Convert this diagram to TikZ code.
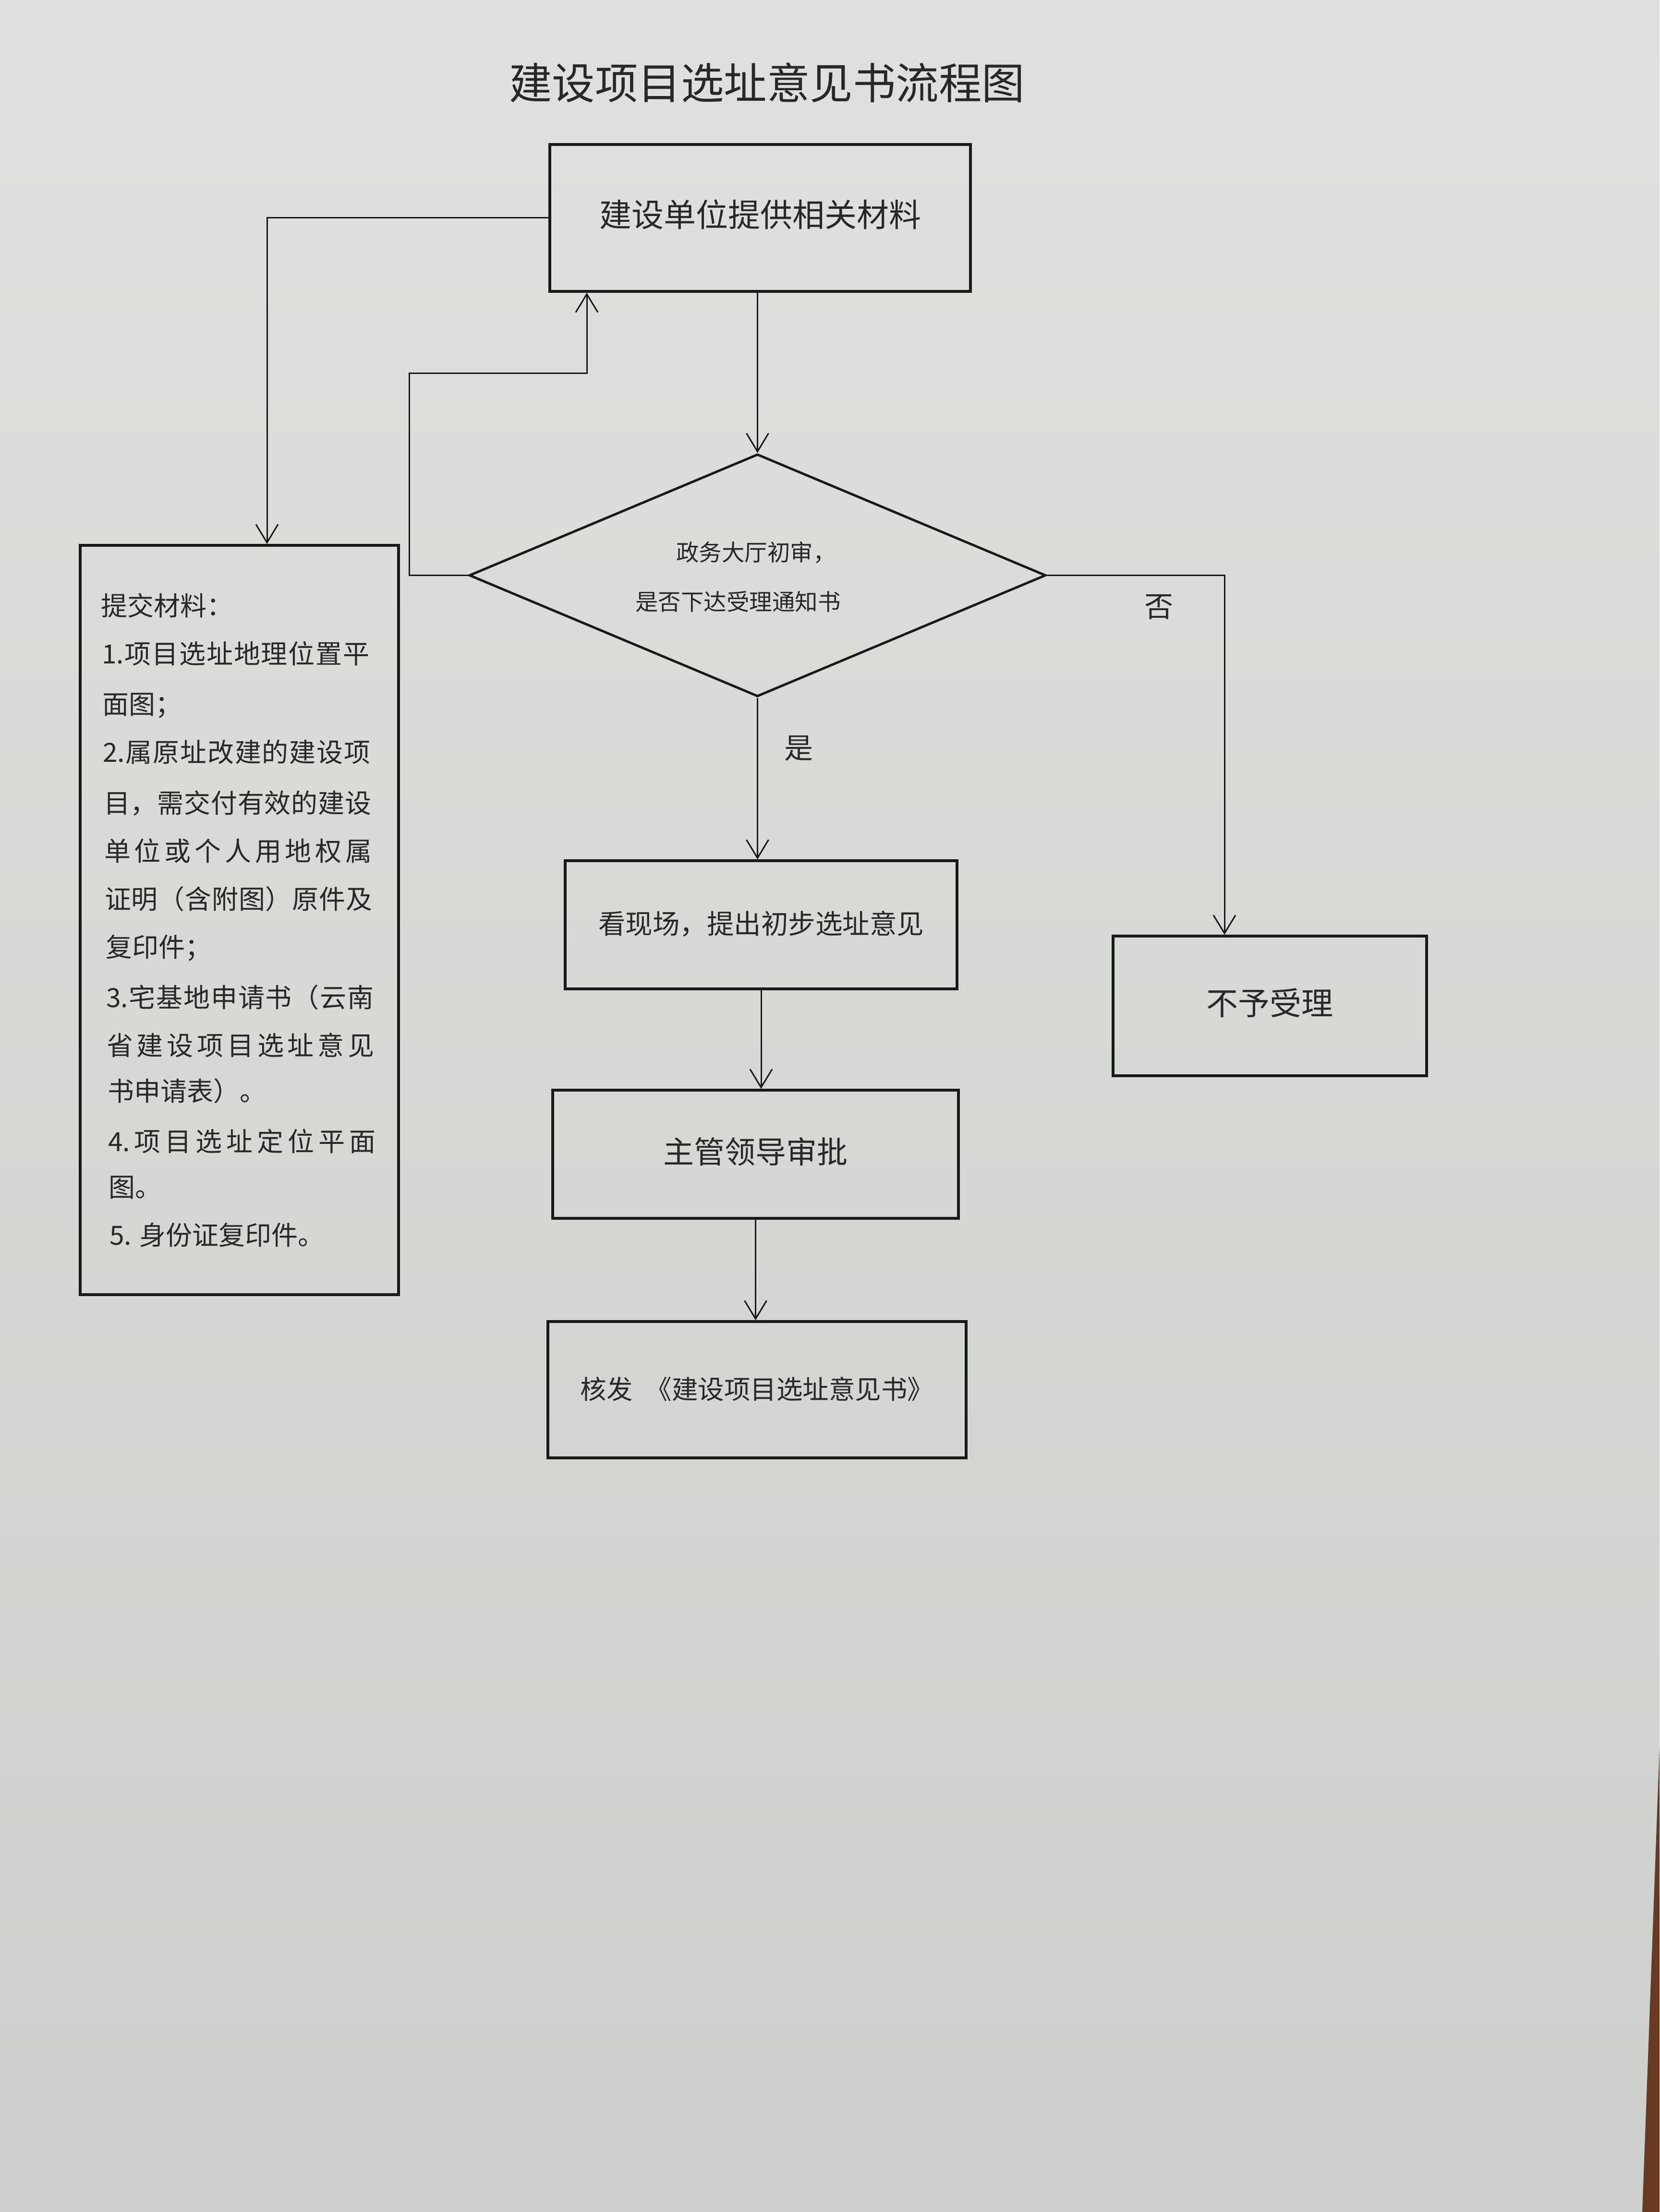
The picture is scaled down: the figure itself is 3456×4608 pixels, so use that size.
\documentclass[tikz,border=0pt]{standalone}
\usepackage{fontspec}
\newfontfamily\cjk{Noto Sans CJK SC}
\usetikzlibrary{arrows.meta,shapes.geometric,calc}
\definecolor{papertop}{RGB}{224,225,222}
\definecolor{paperbot}{RGB}{204,207,203}
\definecolor{wood}{RGB}{105,58,32}
\definecolor{ink}{RGB}{40,40,40}
\definecolor{linec}{RGB}{25,25,25}
\newcommand\spreadline[1]{\hbox to 111.5pt{\spreadaux#1\relax}}
\def\spreadaux#1{\ifx\relax#1\unskip\else#1\hfil\expandafter\spreadaux\fi}
\newcommand\fs[1]{\cjk\fontsize{#1pt}{#1pt}\selectfont}
\tikzset{
  box/.style={draw=linec, line width=1.1pt, rectangle, inner sep=0pt, text=ink,
              text height=0.83em, text depth=0.07em},
  conn/.style={draw=linec, line width=0.6pt, -{Straight Barb[length=7.6pt,width=9.2pt]}},
  lbl/.style={inner sep=0pt, text=ink, text height=0.83em, text depth=0.07em},
  matline/.style={lbl, anchor=west, font=\fs{11}}
}
\begin{document}
\begin{tikzpicture}[x=0.2pt, y=-0.2pt]
\shade[top color=papertop, bottom color=paperbot] (0,0) rectangle (3456,4608);
\fill[wood] (3456,3640) -- (3420,4608) -- (3456,4608) -- cycle;
\useasboundingbox (0,0) rectangle (3456,4608);

% title
\node[lbl, font=\fs{17.9}] (title) at (1597,188) {建设项目选址意见书流程图};

% boxes
\node[box, minimum width=175.2pt, minimum height=61.2pt, font=\fs{13.4}] (start) at (1583,454) {建设单位提供相关材料};
\node[box, minimum width=132.6pt, minimum height=312.2pt] (mat) at (498.5,1916.5) {};
\node[draw=linec, line width=1.0pt, diamond, inner sep=0pt, minimum width=240.2pt, minimum height=101pt] (dec) at (1577.5,1198.5) {};
\node[box, minimum width=130.6pt, minimum height=58.2pt, font=\fs{13.2}] (rej) at (2644.5,2095.5) {不予受理};
\node[box, minimum width=163.2pt, minimum height=53.4pt, font=\fs{11.3}] (site) at (1585,1926.5) {看现场，提出初步选址意见};
\node[box, minimum width=169pt, minimum height=53.4pt, font=\fs{12.8}] (appr) at (1573.5,2404.5) {主管领导审批};
\node[box, minimum width=174.2pt, minimum height=56.8pt, font=\fs{10.9}] (issue) at (1576.5,2895) {核发\hspace{0.5em}《建设项目选址意见书》};

% decision text
\node[lbl, font=\fs{9.5}, anchor=west] (q1) at (1407,1149) {政务大厅初审，};
\node[lbl, font=\fs{9.5}, anchor=west] (q2) at (1322,1252) {是否下达受理通知书};

% materials list
\node[matline] (l1)  at (209,1263) {提交材料：};
\node[matline] (l2)  at (211,1363) {\spreadline{{1.}项目选址地理位置平}};
\node[matline] (l3)  at (212,1468) {面图；};
\node[matline] (l4)  at (213,1568) {\spreadline{{2.}属原址改建的建设项}};
\node[matline] (l5)  at (215,1674) {\spreadline{目，需交付有效的建设}};
\node[matline] (l6)  at (216,1774) {\spreadline{单位或个人用地权属}};
\node[matline] (l7)  at (217,1874) {\spreadline{证明（含附图）原件及}};
\node[matline] (l8)  at (219,1974) {复印件；};
\node[matline] (l9)  at (220,2079) {\spreadline{{3.}宅基地申请书（云南}};
\node[matline] (l10) at (221,2179) {\spreadline{省建设项目选址意见}};
\node[matline] (l11) at (223,2274) {书申请表）。};
\node[matline] (l12) at (224,2379) {\spreadline{{4.}项目选址定位平面}};
\node[matline] (l13) at (225,2474) {图。};
\node[matline] (l14) at (227,2574) {5. 身份证复印件。};

% branch labels
\node[lbl, font=\fs{12}] (no) at (2413,1266) {否};
\node[lbl, font=\fs{12}] (yes) at (1663,1561) {是};

% connectors
\coordinate (lp) at (852,778);
\draw[conn] (start.west) -| ([xshift=11.5pt]mat.north);
\draw[conn] (dec.west) -| (lp) -| ([xshift=-72.2pt]start.south);
\draw[conn] (dec.north |- start.south) -- (dec.north);
\draw[conn] (dec.east) -| ([xshift=-18.9pt]rej.north);
\draw[conn] (dec.south) -- (dec.south |- site.north);
\draw[conn] (site.south) -- (site.south |- appr.north);
\draw[conn] (appr.south) -- (appr.south |- issue.north);
\end{tikzpicture}
\end{document}
